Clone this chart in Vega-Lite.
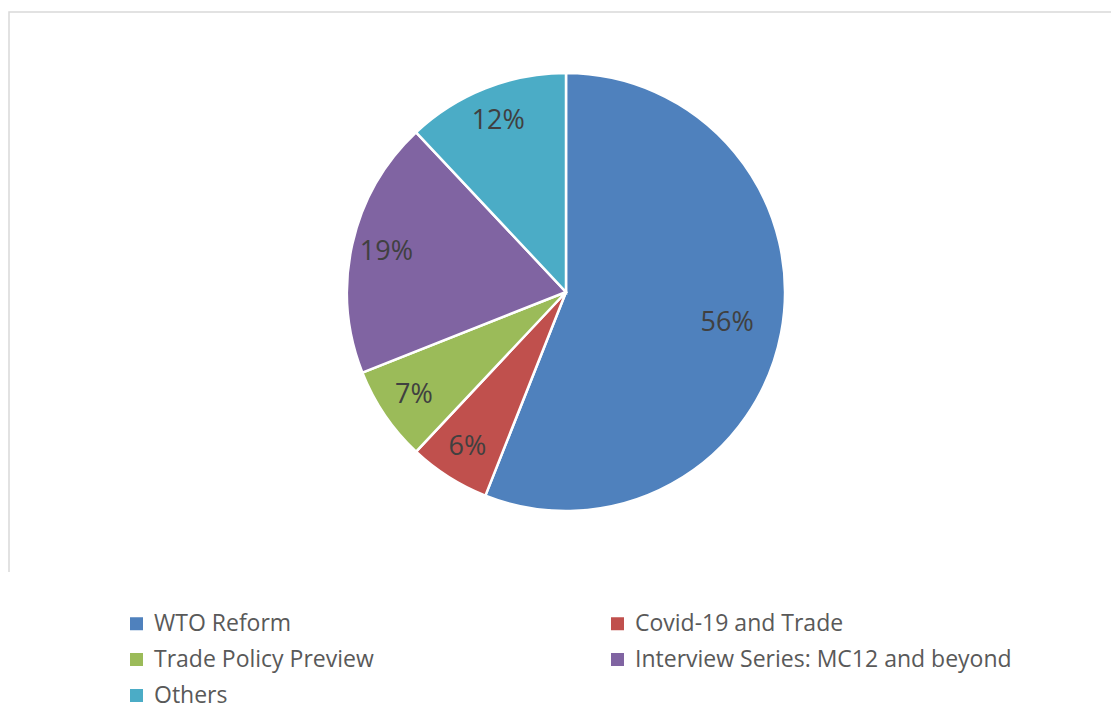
{
  "$schema": "https://vega.github.io/schema/vega-lite/v6.json",
  "autosize": "none",
  "width": 1114,
  "height": 560,
  "padding": {"left": 9, "top": 12, "right": 0, "bottom": 141},
  "background": "white",
  "view": {"stroke": "#d9d9d9", "strokeWidth": 1.5, "strokeDash": [1114, 1674, 560]},
  "config": {
    "view": {"stroke": "#d9d9d9", "strokeWidth": 1.5, "strokeDash": [1114, 1674, 560]},
    "font": "Open Sans"
  },
  "data": {
    "values": [
      {"category": "WTO Reform", "share": 0.56, "rank": 1},
      {"category": "Covid-19 and Trade", "share": 0.06, "rank": 2},
      {"category": "Trade Policy Preview", "share": 0.07, "rank": 3},
      {"category": "Interview Series: MC12 and beyond", "share": 0.19, "rank": 4},
      {"category": "Others", "share": 0.12, "rank": 5}
    ]
  },
  "encoding": {
    "theta": {"field": "share", "type": "quantitative", "stack": true},
    "order": {"field": "rank", "type": "quantitative"},
    "color": {
      "field": "category",
      "type": "nominal",
      "scale": {
        "domain": ["WTO Reform", "Trade Policy Preview", "Others", "Covid-19 and Trade", "Interview Series: MC12 and beyond"],
        "range": ["#4F81BD", "#9BBB59", "#4BACC6", "#C0504D", "#8064A2"]
      },
      "legend": {
        "title": null,
        "orient": "none",
        "legendX": 116,
        "legendY": 600,
        "columns": 2,
        "columnPadding": 232,
        "rowPadding": 12,
        "padding": 0,
        "symbolType": "square",
        "symbolSize": 169,
        "symbolStrokeWidth": 0,
        "symbolOpacity": 1,
        "labelFont": "Open Sans",
        "labelFontSize": 23,
        "labelColor": "#595959",
        "labelOffset": 6,
        "labelLimit": 600
      }
    }
  },
  "layer": [
    {
      "mark": {"type": "arc", "outerRadius": 219, "stroke": "white", "strokeWidth": 2.5}
    },
    {
      "mark": {
        "type": "text",
        "fontSize": 27,
        "font": "Open Sans",
        "color": "#404040",
        "radius": {"expr": "datum.category === 'WTO Reform' ? 164 : 184"}
      },
      "encoding": {
        "text": {"field": "share", "type": "quantitative", "format": ".0%"},
        "color": {"value": "#404040"}
      }
    }
  ]
}
